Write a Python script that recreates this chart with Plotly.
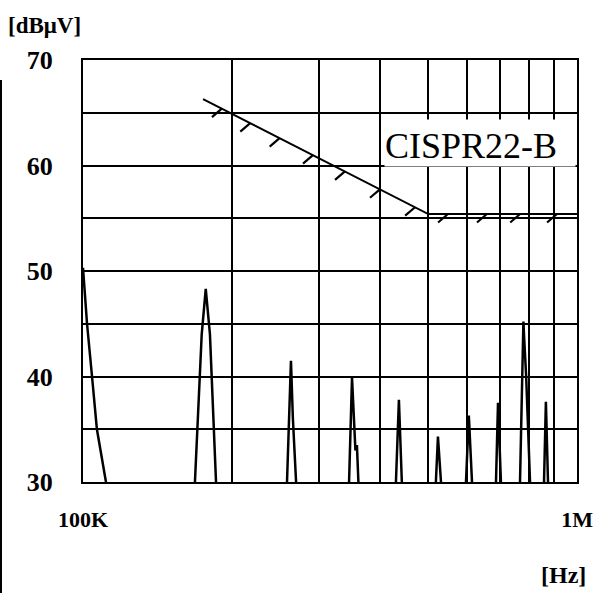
import numpy as np
import plotly.graph_objects as go

# ---- data ----
# CISPR22 class B limit line (kHz, dBuV)
limit_freq_khz = [175, 500, 1000]
limit_dbuv = [66.3, 55.4, 55.4]

# hatch tick positions along the limit line (kHz)
hatch_freq_khz = [191, 218, 250, 292, 339, 399, 470, 548, 657, 767, 911]

# measured spectrum (kHz, dBuV); None separates the individual peaks
spectrum_freq_khz = [
    100, 101.9, 104.3, 106.7, 111.3, None,
    168.5, 173.9, 177.2, 180.7, 185.9, None,
    258.8, 261.5, 263.6, 266.0, 270.0, None,
    345.6, 350.4, 356.0, 358.5, 361.0, None,
    430.0, 436.0, 442.0, None,
    518.0, 523.0, 530.5, None,
    596.0, 604.0, 613.0, None,
    685.5, 692.0, 701.5, None,
    766.7, 779.0, 781.0, 789.0, 803.4, None,
    857.5, 865.0, 873.6,
]
spectrum_dbuv = [
    50.3, 45, 40, 35, 30, None,
    30, 44, 48.3, 44, 30, None,
    30, 36.0, 41.5, 36.0, 30, None,
    30, 39.9, 33.0, 33.5, 30, None,
    30, 37.8, 30, None,
    30, 34.3, 30, None,
    30, 36.3, 30, None,
    30, 37.5, 30, None,
    30, 45.2, 44.0, 40.0, 30, None,
    30, 37.6, 30,
]

y_tickvals = [30, 35, 40, 45, 50, 55, 60, 65, 70]
y_ticktext = ["30", "", "40", "", "50", "", "60", "", "70"]
x_tickvals_khz = [100, 200, 300, 400, 500, 600, 700, 800, 900, 1000]
x_ticktext = ["100K", "", "", "", "", "", "", "", "", "1M"]

limit_label = "CISPR22-B"
y_unit = "[dBμV]"
x_unit = "[Hz]"

# ---- build ----
fig = go.Figure()

# spectrum
fig.add_trace(go.Scatter(
    x=[f * 1e3 if f is not None else None for f in spectrum_freq_khz],
    y=spectrum_dbuv,
    mode="lines", line=dict(color="black", width=2.5),
    connectgaps=False, hoverinfo="skip", showlegend=False))

# limit line
fig.add_trace(go.Scatter(
    x=[f * 1e3 for f in limit_freq_khz], y=limit_dbuv,
    mode="lines", line=dict(color="black", width=2),
    hoverinfo="skip", showlegend=False))

# hatch ticks derived from limit line
log_lim_f = np.log10(np.array(limit_freq_khz) * 1e3)
hx, hy = [], []
for f in hatch_freq_khz:
    lf = np.log10(f * 1e3)
    lv = float(np.interp(lf, log_lim_f, limit_dbuv))
    hx += [10 ** lf, 10 ** (lf - 0.02), None]
    hy += [lv, lv - 0.8, None]
fig.add_trace(go.Scatter(
    x=hx, y=hy, mode="lines", line=dict(color="black", width=2.2),
    hoverinfo="skip", showlegend=False))

y_tick_font = dict(family="Liberation Serif", size=26, color="black", weight="bold")
x_tick_font = dict(family="Liberation Serif", size=22, color="black", weight="bold")

fig.update_xaxes(
    type="log", range=[5, 6], automargin=False,
    tickvals=[v * 1e3 for v in x_tickvals_khz], ticktext=x_ticktext,
    showgrid=True, gridcolor="black", gridwidth=2,
    showline=True, linecolor="black", linewidth=2, mirror=True,
    ticks="", tickfont=x_tick_font, ticklabelstandoff=17,
    ticklabeloverflow="allow", zeroline=False)
fig.update_yaxes(
    range=[30, 70], automargin=False,
    tickvals=y_tickvals, ticktext=y_ticktext,
    showgrid=True, gridcolor="black", gridwidth=2,
    showline=True, linecolor="black", linewidth=2, mirror=True,
    ticks="", tickfont=y_tick_font, ticklabelstandoff=23,
    ticklabeloverflow="allow", zeroline=False)

fig.add_annotation(
    xref="paper", yref="paper", x=0.8027, y=0.803,
    text=limit_label, showarrow=False,
    font=dict(family="Liberation Serif", size=36, color="black"),
    bgcolor="white", width=190, height=46, align="left", borderpad=0,
    xanchor="center", yanchor="middle", valign="bottom")

fig.add_annotation(
    xref="paper", yref="paper", x=-0.155, y=1.047,
    text=y_unit, showarrow=False, xanchor="left", yanchor="bottom",
    font=dict(family="Liberation Serif", size=23, color="black", weight="bold"))
fig.add_annotation(
    xref="paper", yref="paper", x=1.022, y=-0.185,
    text=x_unit, showarrow=False, xanchor="right", yanchor="top",
    font=dict(family="Liberation Serif", size=24, color="black", weight="bold"))

# scan-edge line at left page border
fig.add_shape(type="line", xref="paper", yref="paper",
              x0=-0.166, x1=-0.166, y0=0.9526, y1=-0.3,
              line=dict(color="black", width=2))

fig.update_layout(
    width=594, height=593,
    margin=dict(l=83, r=17, t=60, b=111, autoexpand=False),
    paper_bgcolor="white", plot_bgcolor="white",
    showlegend=False)

fig.write_html(
    "out.html",
    config={"displayModeBar": False},
    post_script="document.body.style.margin='0';document.body.style.overflow='hidden';")
